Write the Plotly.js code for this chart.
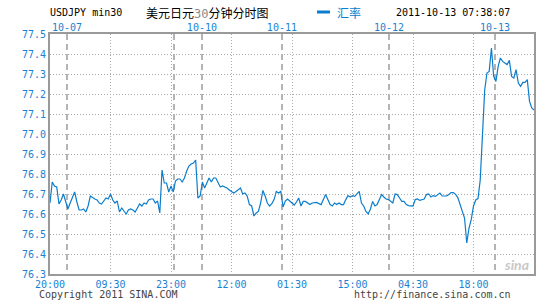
<!DOCTYPE html>
<html>
<head>
<meta charset="utf-8">
<script src="https://cdn.plot.ly/plotly-3.0.1.min.js"></script>
<style>html,body{margin:0;padding:0;background:#fff;}#chart{width:545px;height:300px;}</style>
</head>
<body>
<div id="chart"></div>
<script>
// USDJPY 30-minute rates, one value per bar period (index 0 = 20:00 first point)
const rates = [
76.655,76.76,76.74,76.735,76.65,76.67,76.70,76.655,76.625,76.655,
76.68,76.71,76.66,76.62,76.62,76.625,76.61,76.64,76.69,76.68,
76.675,76.67,76.655,76.65,76.665,76.68,76.675,76.70,76.67,76.655,
76.665,76.61,76.63,76.615,76.60,76.62,76.625,76.62,76.61,76.63,
76.65,76.64,76.655,76.65,76.67,76.675,76.675,76.655,76.665,76.605,
76.82,76.755,76.755,76.71,76.74,76.71,76.765,76.775,76.775,76.76,
76.78,76.815,76.84,76.85,76.855,76.87,76.68,76.69,76.76,76.73,
76.76,76.78,76.76,76.78,76.78,76.76,76.735,76.74,76.735,76.73,
76.72,76.71,76.705,76.713,76.72,76.73,76.70,76.705,76.69,76.647,
76.64,76.59,76.605,76.613,76.655,76.718,76.69,76.655,76.64,76.652,
76.672,76.713,76.705,76.713,76.635,76.665,76.675,76.665,76.655,76.645,
76.66,76.68,76.64,76.663,76.663,76.655,76.647,76.655,76.655,76.658,
76.652,76.647,76.672,76.697,76.672,76.647,76.64,76.655,76.647,76.655,
76.647,76.647,76.672,76.692,76.685,76.692,76.688,76.70,76.713,76.655,
76.64,76.613,76.60,76.625,76.663,76.64,76.647,76.672,76.697,76.685,
76.675,76.672,76.663,76.655,76.70,76.697,76.68,76.663,76.663,76.647,
76.642,76.642,76.64,76.672,76.675,76.668,76.672,76.675,76.697,76.70,
76.685,76.692,76.688,76.697,76.705,76.69,76.69,76.69,76.698,76.707,
76.707,76.698,76.682,76.648,76.623,76.58,76.455,76.53,76.573,76.64,
76.67,76.677,76.77,76.98,77.22,77.305,77.313,77.43,77.288,77.263,
77.338,77.38,77.363,77.355,77.347,77.368,77.288,77.28,77.322,77.255,
77.238,77.258,77.258,77.272,77.163,77.13,77.12
];
const periodIndex = rates.map((_, i) => i);

// bottom time ticks
const timeTickIndex = [0, 27, 54, 81, 108, 135, 162, 189, 216];
const timeTickLabels = ['20:00','09:30','23:00','12:00','01:30','15:00','04:30','18:00','07:38'];

// top date boundaries
const dateTickIndex = [7.6, 55.3, 67.8, 103.5, 151.3, 198.6];
const dateTickLabels = ['10-07', '', '10-10', '10-11', '10-12', '10-13'];

// y ticks
const yTickValues = [76.3,76.4,76.5,76.6,76.7,76.8,76.9,77.0,77.1,77.2,77.3,77.4,77.5];

const BLUE = '#0b7dcc';
const TICKBLUE = '#1a82d2';
const MONO = 'DejaVu Sans Mono, Liberation Mono, monospace';
const CJK = 'Noto Sans CJK SC, sans-serif';

const traces = [
  {
    x: periodIndex, y: rates, type: 'scatter', mode: 'lines',
    line: {color: BLUE, width: 1.2, shape: 'linear'},
    hoverinfo: 'skip', showlegend: false, xaxis: 'x', yaxis: 'y'
  },
  {
    x: [periodIndex[0], periodIndex[periodIndex.length-1]], y: [null, null],
    type: 'scatter', mode: 'lines', hoverinfo: 'skip', showlegend: false,
    xaxis: 'x2', yaxis: 'y'
  }
];

const xr = [0, periodIndex.length - 1];
const layout = {
  width: 545, height: 300,
  margin: {l: 50, r: 11, t: 34, b: 26, pad: 0},
  paper_bgcolor: '#ffffff', plot_bgcolor: '#ffffff',
  showlegend: false,
  xaxis: {
    range: xr, tickmode: 'array', tickvals: timeTickIndex, ticktext: timeTickLabels,
    showgrid: true, gridcolor: '#aaaaaa', gridwidth: 1, griddash: '1px,2px',
    showline: true, linecolor: '#9a9a9a', linewidth: 2, mirror: true,
    ticks: '', zeroline: false, fixedrange: true,
    tickfont: {family: MONO, size: 10, color: TICKBLUE}
  },
  xaxis2: {
    range: xr, overlaying: 'x', side: 'top', anchor: 'y',
    tickmode: 'array', tickvals: dateTickIndex, ticktext: dateTickLabels,
    showgrid: true, gridcolor: '#b4b4b4', gridwidth: 1.6, griddash: '6px,4px',
    showline: false, ticks: '', zeroline: false, fixedrange: true,
    tickfont: {family: MONO, size: 10, color: TICKBLUE}
  },
  yaxis: {
    range: [76.3, 77.5], tickmode: 'array', tickvals: yTickValues,
    tickformat: '.1f',
    showgrid: true, gridcolor: '#aaaaaa', gridwidth: 1, griddash: '1px,2px',
    showline: true, linecolor: '#9a9a9a', linewidth: 2, mirror: true,
    ticks: '', zeroline: false, fixedrange: true,
    tickfont: {family: MONO, size: 10, color: TICKBLUE}
  },
  shapes: [
    {type: 'line', xref: 'paper', yref: 'paper',
     x0: (317-50)/484, x1: (330-50)/484, y0: (274-12)/240, y1: (274-12)/240,
     line: {color: BLUE, width: 3}}
  ],
  annotations: [
    {xref: 'paper', yref: 'paper', x: (48-50)/484, y: (274-12)/240, xanchor: 'left', yanchor: 'middle',
     text: 'USDJPY min30', showarrow: false, font: {family: MONO, size: 10, color: '#000'}},
    {xref: 'paper', yref: 'paper', x: (144-50)/484, y: (274-12)/240, xanchor: 'left', yanchor: 'middle',
     text: '美元日元<span style="color:#8a8a8a;font-family:DejaVu Sans Mono">30</span>分钟分时图', showarrow: false,
     font: {family: CJK, size: 12, color: '#000'}},
    {xref: 'paper', yref: 'paper', x: (335-50)/484, y: (274-12)/240, xanchor: 'left', yanchor: 'middle',
     text: '汇率', showarrow: false, font: {family: CJK, size: 12, color: BLUE}},
    {xref: 'paper', yref: 'paper', x: (512-50)/484, y: (274-12)/240, xanchor: 'right', yanchor: 'middle',
     text: '2011-10-13 07:38:07', showarrow: false, font: {family: MONO, size: 10, color: '#000'}},
    {xref: 'paper', yref: 'paper', x: (37-50)/484, y: (274-294)/240, xanchor: 'left', yanchor: 'middle',
     text: 'Copyright 2011 SINA.COM', showarrow: false, font: {family: MONO, size: 10, color: '#444'}},
    {xref: 'paper', yref: 'paper', x: (513-50)/484, y: (274-294)/240, xanchor: 'right', yanchor: 'middle',
     text: 'http://finance.sina.com.cn', showarrow: false, font: {family: MONO, size: 10, color: '#444'}},
    {xref: 'paper', yref: 'paper', x: (531-50)/484, y: (274-264)/240, xanchor: 'right', yanchor: 'middle',
     text: '<i><b>sina</b></i>', showarrow: false, font: {family: 'Lato, sans-serif', size: 14, color: '#c8c8c8'}}
  ]
};

Plotly.newPlot('chart', traces, layout, {staticPlot: true, displayModeBar: false});
</script>
</body>
</html>
